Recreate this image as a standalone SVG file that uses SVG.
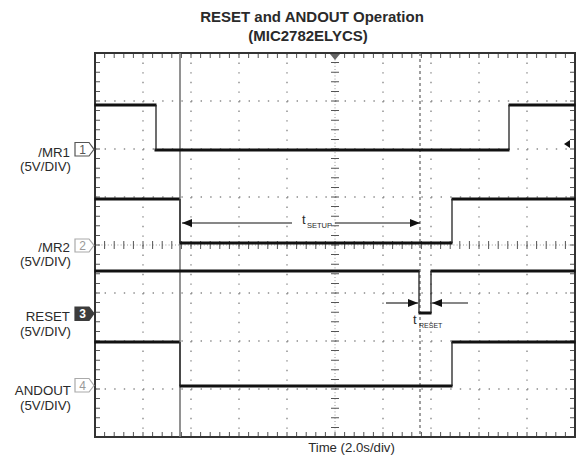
<svg xmlns="http://www.w3.org/2000/svg" width="579" height="455" viewBox="0 0 579 455">
<defs>
<style>
text{font-family:"Liberation Sans",Arial,sans-serif;fill:#2a2a2a}
.title{font-weight:bold;font-size:15px;text-anchor:middle}
.lbl{font-size:13.3px;text-anchor:end}
.dot{stroke:#8a8a8a;stroke-width:1.4;stroke-dasharray:1.4 8.2;fill:none}
.tick{stroke:#555;stroke-dasharray:1 8.6;fill:none}
.trace{stroke:#111;stroke-width:3;fill:none;stroke-linecap:square}
.edge{stroke:#222;stroke-width:1.3;fill:none}
.arr{stroke:#111;stroke-width:1.1;fill:none}
.mk{font-size:12px;text-anchor:middle}
</style>
<marker id="ah" viewBox="0 0 10 8" refX="10" refY="4" markerWidth="10" markerHeight="8" markerUnits="userSpaceOnUse" orient="auto">
<path d="M0,0 L10,4 L0,8 Z" fill="#111"/>
</marker>
</defs>
<rect width="579" height="455" fill="#fff"/>
<g id="title">
<text class="title" x="312" y="22">RESET and ANDOUT Operation</text>
<text class="title" x="308" y="41">(MIC2782ELYCS)</text>
</g>
<g id="grid">
<g class="dot">
<line x1="143" y1="53" x2="143" y2="437"/><line x1="191" y1="53" x2="191" y2="437"/>
<line x1="239" y1="53" x2="239" y2="437"/><line x1="287" y1="53" x2="287" y2="437"/>
<line x1="383" y1="53" x2="383" y2="437"/><line x1="431" y1="53" x2="431" y2="437"/>
<line x1="479" y1="53" x2="479" y2="437"/><line x1="527" y1="53" x2="527" y2="437"/>
<line x1="95" y1="101" x2="575" y2="101"/><line x1="95" y1="149" x2="575" y2="149"/>
<line x1="95" y1="197" x2="575" y2="197"/><line x1="95" y1="293" x2="575" y2="293"/>
<line x1="95" y1="341" x2="575" y2="341"/><line x1="95" y1="389" x2="575" y2="389"/>
</g>
<line x1="95" y1="245" x2="575" y2="245" stroke="#999" stroke-width="1" stroke-dasharray="1 2.2"/>
<line x1="335" y1="53" x2="335" y2="437" stroke="#999" stroke-width="1" stroke-dasharray="1 2.2"/>
<line class="tick" x1="94.5" y1="245" x2="575" y2="245" stroke-width="8"/>
<line class="tick" x1="335" y1="52.5" x2="335" y2="437" stroke-width="8"/>
<line class="tick" x1="94.5" y1="55.5" x2="575" y2="55.5" stroke-width="5"/>
<line class="tick" x1="94.5" y1="434.5" x2="575" y2="434.5" stroke-width="5"/>
<line class="tick" x1="97.5" y1="52.5" x2="97.5" y2="437" stroke-width="5"/>
<line class="tick" x1="572.5" y1="52.5" x2="572.5" y2="437" stroke-width="5"/>
<rect x="95" y="53" width="480" height="384" fill="none" stroke="#333" stroke-width="2"/>
<polygon points="330,54 340,54 335,60" fill="#666"/>
<line x1="180" y1="53" x2="180" y2="437" stroke="#777" stroke-width="1.6"/>
<line x1="420" y1="53" x2="420" y2="437" stroke="#777" stroke-width="1.4" stroke-dasharray="3 3"/>
<polygon points="564,144 570,140 570,148" fill="#111"/>
</g>
<g id="traces">
<g id="mr1">
<path class="trace" d="M96,105 H155 M156,150 H508 M510,105 H574"/>
<path class="edge" d="M156,105 V150 M509,150 V105"/>
</g>
<g id="mr2">
<path class="trace" d="M96,199 H178 M181,243 H451 M453,199 H574"/>
<path class="edge" d="M180,199 V243 M452,243 V199"/>
</g>
<g id="reset">
<path class="trace" d="M96,271 H418 M420,313 H430 M432,271 H574"/>
<path class="edge" d="M419,271 V313 M431,313 V271"/>
</g>
<g id="andout">
<path class="trace" d="M96,342 H178 M181,386 H451 M453,342 H574"/>
<path class="edge" d="M180,342 V386 M452,386 V342"/>
</g>
</g>
<g id="markers">
<g id="ch1"><path d="M75,142.5 H89 L94,149.3 L89,156 H75 Z" fill="#fff" stroke="#555" stroke-width="1.2"/><text class="mk" x="82.5" y="153.5" style="fill:#555">1</text></g>
<g id="ch2"><path d="M75,239 H89 L94,245.3 L89,252 H75 Z" fill="#fff" stroke="#aaa" stroke-width="1.2"/><text class="mk" x="82.5" y="249.8" style="fill:#999">2</text></g>
<g id="ch3"><path d="M75,307 H89 L94,313.5 L89,320.5 H75 Z" fill="#3c3c3c" stroke="#3c3c3c" stroke-width="1.2"/><text class="mk" x="82.5" y="318" style="fill:#fff;font-weight:bold">3</text></g>
<g id="ch4"><path d="M75,378.5 H89 L94,385.5 L89,392 H75 Z" fill="#fff" stroke="#aaa" stroke-width="1.2"/><text class="mk" x="82.5" y="390" style="fill:#999">4</text></g>
</g>
<g id="labels">
<text class="lbl" x="70" y="157">/MR1</text>
<text class="lbl" x="71" y="171">(5V/DIV)</text>
<text class="lbl" x="70" y="252">/MR2</text>
<text class="lbl" x="71" y="266">(5V/DIV)</text>
<text class="lbl" x="70" y="321">RESET</text>
<text class="lbl" x="71" y="336">(5V/DIV)</text>
<text class="lbl" x="71" y="395">ANDOUT</text>
<text class="lbl" x="71" y="410">(5V/DIV)</text>
<text x="351.5" y="452" style="font-size:13.2px;text-anchor:middle">Time (2.0s/div)</text>
</g>
<g id="connectors">
<line class="arr" x1="292" y1="223" x2="182" y2="223" marker-end="url(#ah)"/>
<line class="arr" x1="335" y1="223" x2="420" y2="223" marker-end="url(#ah)"/>
<line class="arr" x1="386" y1="303" x2="418" y2="303" marker-end="url(#ah)"/>
<line class="arr" x1="468" y1="303" x2="432" y2="303" marker-end="url(#ah)"/>
</g>
<g id="annotations">
<text x="302" y="224" style="font-size:13px">t<tspan x="307" y="227.5" style="font-size:7.5px">SETUP</tspan></text>
<text x="413" y="324" style="font-size:13px">t<tspan x="419" y="328" style="font-size:7px">RESET</tspan></text>
</g>
</svg>
